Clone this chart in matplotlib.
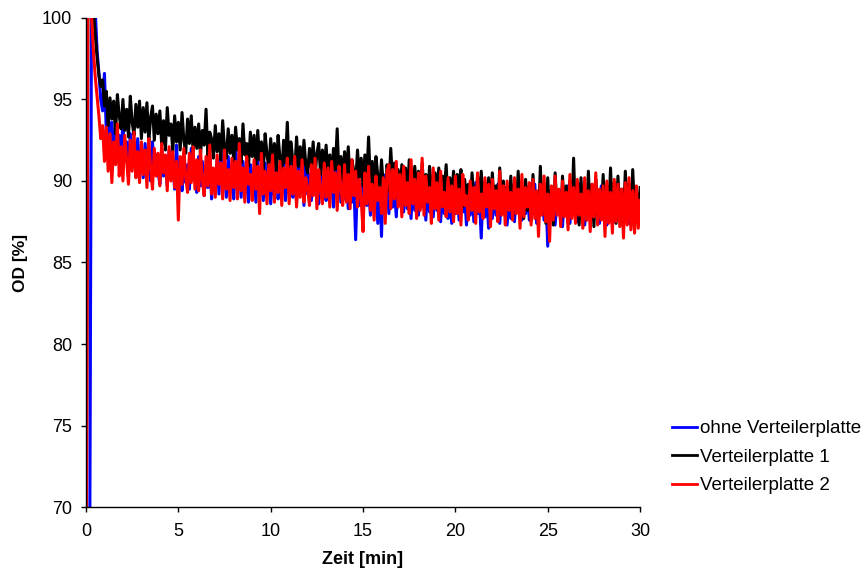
import numpy as np
import matplotlib
matplotlib.use("Agg")
import matplotlib.pyplot as plt

plt.rcParams['font.family'] = ['Liberation Sans', 'DejaVu Sans']

# time grid (min), sampled every 0.1 min
time_min = np.round(np.arange(0, 301) * 0.1, 2)

labels = ["ohne Verteilerplatte", "Verteilerplatte 1", "Verteilerplatte 2"]
colors = ["#0000ff", "#000000", "#ff0000"]

ohne = [
    55, 58, 66, 101, 101, 100.5, 98.0, 96.6, 95.0, 94.3,
    96.6, 93.0, 94.5, 92.0, 93.6, 91.5, 93.2, 91.2, 92.8, 91.8,
    93.5, 91.3, 92.4, 90.9, 92.9, 91.4, 92.2, 90.4, 92.6, 91.0,
    91.9, 90.2, 92.3, 90.7, 91.8, 90.0, 92.4, 90.5, 91.6, 90.6,
    89.8, 92.0, 90.3, 91.4, 89.7, 91.9, 90.1, 91.2, 89.5, 92.2,
    90.2, 90.9, 89.4, 91.7, 89.9, 91.0, 89.5, 92.0, 90.1, 90.6,
    89.3, 91.5, 89.7, 91.2, 89.1, 90.9, 89.6, 91.6, 88.9, 90.4,
    89.5, 91.3, 89.2, 92.0, 89.8, 90.8, 89.0, 91.5, 89.5, 90.6,
    88.9, 92.3, 89.4, 90.9, 89.0, 91.2, 89.3, 90.5, 88.7, 91.0,
    89.5, 90.7, 88.7, 91.3, 89.2, 90.4, 88.8, 91.1, 89.3, 90.3,
    88.6, 90.8, 89.1, 92.0, 88.9, 90.6, 89.4, 91.2, 88.8, 90.2,
    89.3, 92.3, 89.0, 90.5, 88.7, 91.0, 89.5, 90.7, 88.5, 91.3,
    89.2, 90.4, 88.8, 91.1, 89.3, 90.3, 88.6, 90.8, 89.1, 90.1,
    88.8, 91.0, 89.2, 90.2, 88.4, 90.9, 89.0, 90.5, 88.7, 91.2,
    88.9, 90.4, 88.3, 90.7, 88.7, 90.0, 86.4, 90.3, 88.5, 89.8,
    88.2, 90.5, 88.5, 89.6, 87.9, 90.2, 88.7, 89.4, 87.4, 89.9,
    86.6, 90.4, 88.6, 89.7, 88.0, 90.6, 88.4, 89.5, 87.8, 90.1,
    88.5, 89.8, 88.1, 90.3, 88.3, 89.4, 87.7, 90.0, 88.2, 89.6,
    87.9, 90.2, 88.4, 89.3, 87.6, 90.0, 88.1, 89.7, 87.8, 89.5,
    88.2, 89.9, 87.5, 89.4, 88.0, 90.1, 87.7, 89.2, 87.4, 89.8,
    88.0, 89.5, 87.6, 90.0, 88.1, 89.1, 87.3, 89.7, 87.9, 89.4,
    87.5, 89.9, 88.0, 89.0, 86.5, 89.6, 87.8, 88.9, 87.1, 89.5,
    87.7, 89.2, 87.9, 89.8, 87.4, 89.0, 88.0, 89.6, 87.3, 89.1,
    87.7, 89.7, 87.5, 89.3, 88.1, 89.9, 87.6, 89.2, 88.0, 89.6,
    87.6, 89.4, 88.0, 89.8, 87.4, 89.1, 87.9, 89.5, 87.6, 89.0,
    86.0, 89.3, 87.8, 89.6, 87.3, 89.0, 88.0, 89.4, 87.2, 89.2,
    87.9, 89.7, 87.4, 89.1, 88.0, 89.5, 87.5, 89.8, 87.7, 89.3,
    87.3, 89.2, 88.0, 89.6, 87.6, 89.0, 88.1, 89.4, 87.4, 89.7,
    87.8, 89.3, 87.3, 89.5, 88.0, 89.1, 87.5, 89.6, 87.9, 89.0,
    87.6, 89.4, 88.0, 89.8, 87.4, 89.2, 87.7, 89.5, 87.5, 89.1,
    87.6,
]

platte1 = [
    60, 100.5, 101, 101, 100.5, 99.0, 97.6, 96.5, 95.8, 96.2,
    94.6, 95.5, 93.4, 95.1, 93.8, 94.9, 92.9, 95.3, 94.0, 93.2,
    95.0, 93.1, 94.4, 92.7, 95.2, 93.6, 92.8, 94.7, 93.3, 94.9,
    92.6, 94.5, 93.0, 94.8, 92.4, 93.9, 94.6, 92.5, 94.1, 92.9,
    94.3, 92.2, 93.7, 91.9, 94.5, 92.8, 93.5, 91.8, 94.0, 92.4,
    93.6, 91.9, 94.2, 92.5, 91.7, 93.8, 92.3, 94.0, 91.8, 93.3,
    92.0, 93.5, 91.6, 93.1, 92.2, 94.4, 91.5, 93.0, 92.6, 91.4,
    93.4, 91.8, 92.9, 91.3, 93.7, 92.0, 91.4, 93.2, 91.7, 92.8,
    91.2, 93.3, 91.9, 92.6, 91.1, 93.5, 91.6, 92.3, 90.9, 93.0,
    91.5, 92.8, 90.9, 93.1, 91.3, 92.4, 90.7, 92.9, 91.6, 90.8,
    92.6, 91.0, 92.3, 90.6, 92.8, 91.4, 90.5, 92.5, 91.1, 93.6,
    90.7, 92.4, 91.2, 90.4, 92.7, 90.9, 92.1, 90.3, 92.5, 91.0,
    90.5, 92.0, 90.8, 92.4, 90.2, 91.7, 92.3, 90.4, 91.9, 90.6,
    92.2, 90.3, 91.6, 90.1, 92.0, 90.7, 93.2, 90.2, 91.5, 90.0,
    91.8, 90.4, 92.1, 89.9, 91.3, 90.6, 89.8, 91.9, 90.2, 91.4,
    89.7, 91.6, 90.1, 92.7, 89.8, 91.2, 89.6, 91.5, 90.3, 89.5,
    91.3, 89.6, 88.2, 91.0, 89.4, 92.0, 89.9, 91.1, 89.3, 90.7,
    89.2, 91.0, 89.5, 90.8, 88.9, 91.3, 89.7, 88.8, 90.9, 89.4,
    90.6, 88.8, 91.1, 89.3, 90.4, 88.7, 90.9, 89.6, 88.6, 90.5,
    89.1, 90.8, 88.7, 90.3, 89.4, 91.0, 88.6, 90.2, 89.0, 90.6,
    88.5, 90.4, 89.2, 90.7, 88.4, 90.1, 88.9, 89.8, 88.3, 90.5,
    89.0, 88.2, 90.3, 88.7, 90.6, 88.3, 89.9, 88.8, 90.2, 88.1,
    90.5, 88.6, 89.7, 88.0, 90.8, 88.5, 90.0, 87.9, 89.6, 88.4,
    90.3, 87.8, 89.9, 88.3, 90.6, 88.0, 89.4, 87.7, 90.1, 88.2,
    89.6, 87.6, 90.4, 88.1, 89.2, 87.5, 90.9, 88.0, 89.8, 87.4,
    90.2, 87.7, 89.5, 87.3, 90.5, 88.2, 89.0, 87.5, 90.3, 87.9,
    89.7, 87.4, 90.0, 88.1, 91.4, 87.8, 89.5, 87.3, 90.2, 88.0,
    89.4, 87.6, 90.6, 87.9, 89.8, 87.2, 90.1, 88.3, 89.3, 87.7,
    90.4, 87.5, 89.7, 88.0, 90.8, 87.6, 89.9, 87.4, 90.3, 88.1,
    89.5, 87.6, 90.6, 87.9, 89.8, 87.5, 90.7, 88.2, 89.4, 87.8,
    89.6,
]

platte2 = [
    58, 100.5, 101, 100.2, 98.0, 96.4, 95.2, 94.0, 92.6, 93.4,
    91.2, 93.3, 90.6, 92.9, 89.9, 92.4, 91.0, 93.5, 90.3, 92.1,
    90.0, 92.8, 91.3, 89.8, 92.5, 90.6, 93.0, 90.2, 91.8, 89.9,
    92.4, 90.4, 91.9, 89.6, 92.6, 90.8, 89.5, 92.0, 90.3, 91.7,
    89.7, 92.3, 90.5, 91.6, 89.4, 92.1, 90.0, 91.8, 89.6, 91.2,
    87.6, 91.5, 89.8, 92.0, 90.2, 89.3, 91.7, 89.9, 92.1, 89.5,
    91.3, 89.4, 91.9, 90.0, 89.1, 91.5, 89.7, 92.2, 89.2, 90.8,
    89.0, 91.6, 89.8, 91.1, 88.9, 91.9, 89.5, 90.7, 88.8, 91.4,
    89.6, 91.2, 88.9, 92.3, 89.4, 90.8, 88.7, 91.5, 89.8, 90.4,
    88.8, 91.3, 89.5, 90.9, 88.0, 91.7, 89.2, 90.6, 88.6, 91.0,
    89.4, 91.6, 88.7, 90.5, 89.3, 91.2, 88.5, 90.8, 89.6, 91.4,
    88.6, 90.9, 89.2, 91.5, 88.4, 90.6, 89.0, 91.3, 88.7, 90.2,
    89.5, 88.5, 91.0, 89.1, 91.4, 88.3, 90.7, 89.4, 88.6, 91.1,
    89.0, 90.8, 88.4, 91.2, 89.3, 90.5, 88.2, 90.9, 89.6, 88.5,
    91.0, 88.7, 90.4, 88.3, 91.3, 89.1, 90.6, 88.4, 90.1, 88.9,
    86.9, 90.5, 88.6, 90.9, 88.2, 89.8, 87.6, 90.3, 88.8, 89.6,
    88.0, 90.2, 87.4, 90.6, 91.0, 88.3, 90.7, 88.9, 91.2, 88.4,
    90.4, 87.8, 90.9, 88.5, 89.9, 88.0, 91.3, 88.6, 90.1, 87.7,
    90.5, 88.2, 91.4, 87.9, 90.3, 88.7, 89.6, 87.4, 90.8, 88.3,
    89.9, 87.6, 90.6, 88.4, 89.3, 87.8, 90.2, 88.1, 89.7, 87.5,
    90.3, 88.0, 89.5, 87.3, 90.4, 88.5, 89.1, 87.6, 90.0, 88.2,
    89.6, 87.4, 90.5, 88.1, 89.2, 87.7, 90.2, 88.4, 89.8, 87.2,
    90.1, 88.3, 89.4, 87.5, 90.6, 87.9, 89.7, 87.3, 90.0, 88.2,
    89.3, 87.6, 90.2, 88.0, 89.5, 87.1, 90.4, 87.8, 89.6, 88.4,
    89.9, 87.3, 90.1, 87.7, 89.4, 86.6, 89.8, 87.9, 90.3, 87.5,
    89.2, 86.3, 89.7, 87.6, 90.3, 87.9, 89.5, 87.2, 90.0, 87.8,
    89.3, 87.0, 90.4, 87.7, 89.6, 87.4, 90.1, 87.9, 89.2, 87.1,
    90.2, 87.6, 89.4, 86.9, 89.8, 87.8, 90.5, 87.3, 89.5, 87.6,
    89.7, 86.6, 90.0, 87.4, 89.3, 86.8, 90.1, 87.5, 89.8, 87.2,
    89.5, 86.5, 89.9, 87.3, 90.2, 87.0, 89.4, 86.8, 89.7, 87.1,
    88.8,
]

series = [ohne, platte1, platte2]

fig = plt.figure(figsize=(8.65, 5.78), dpi=100)
ax = fig.add_axes([0.0994, 0.1228, 0.6406, 0.8461])

for vals, lab, col in zip(series, labels, colors):
    ax.plot(time_min, vals, color=col, lw=2.2, label=lab)

ax.set_xlim(0, 30)
ax.set_ylim(70, 100)
ax.set_xticks([0, 5, 10, 15, 20, 25, 30])
ax.set_yticks([70, 75, 80, 85, 90, 95, 100])
ax.spines['top'].set_visible(False)
ax.spines['right'].set_visible(False)
for s in ['left', 'bottom']:
    ax.spines[s].set_linewidth(1.0)
    ax.spines[s].set_color('#000000')
ax.tick_params(direction='out', length=3.6, width=1.0, labelsize=13)
ax.tick_params(axis='x', pad=8)
ax.tick_params(axis='y', pad=6.5)

ax.set_xlabel("Zeit [min]", fontsize=13, fontweight='bold', labelpad=8)
ax.set_ylabel("OD [%]", fontsize=12.5, fontweight='bold', labelpad=10)

leg = fig.legend(loc='center left', bbox_to_anchor=(0.777, 0.209), frameon=False,
                 fontsize=13.5, handlelength=1.33, handletextpad=0.16, labelspacing=0.6,
                 borderpad=0, borderaxespad=0)
for h in leg.get_lines():
    h.set_linewidth(2.0)

fig.savefig("out.png", dpi=100)
